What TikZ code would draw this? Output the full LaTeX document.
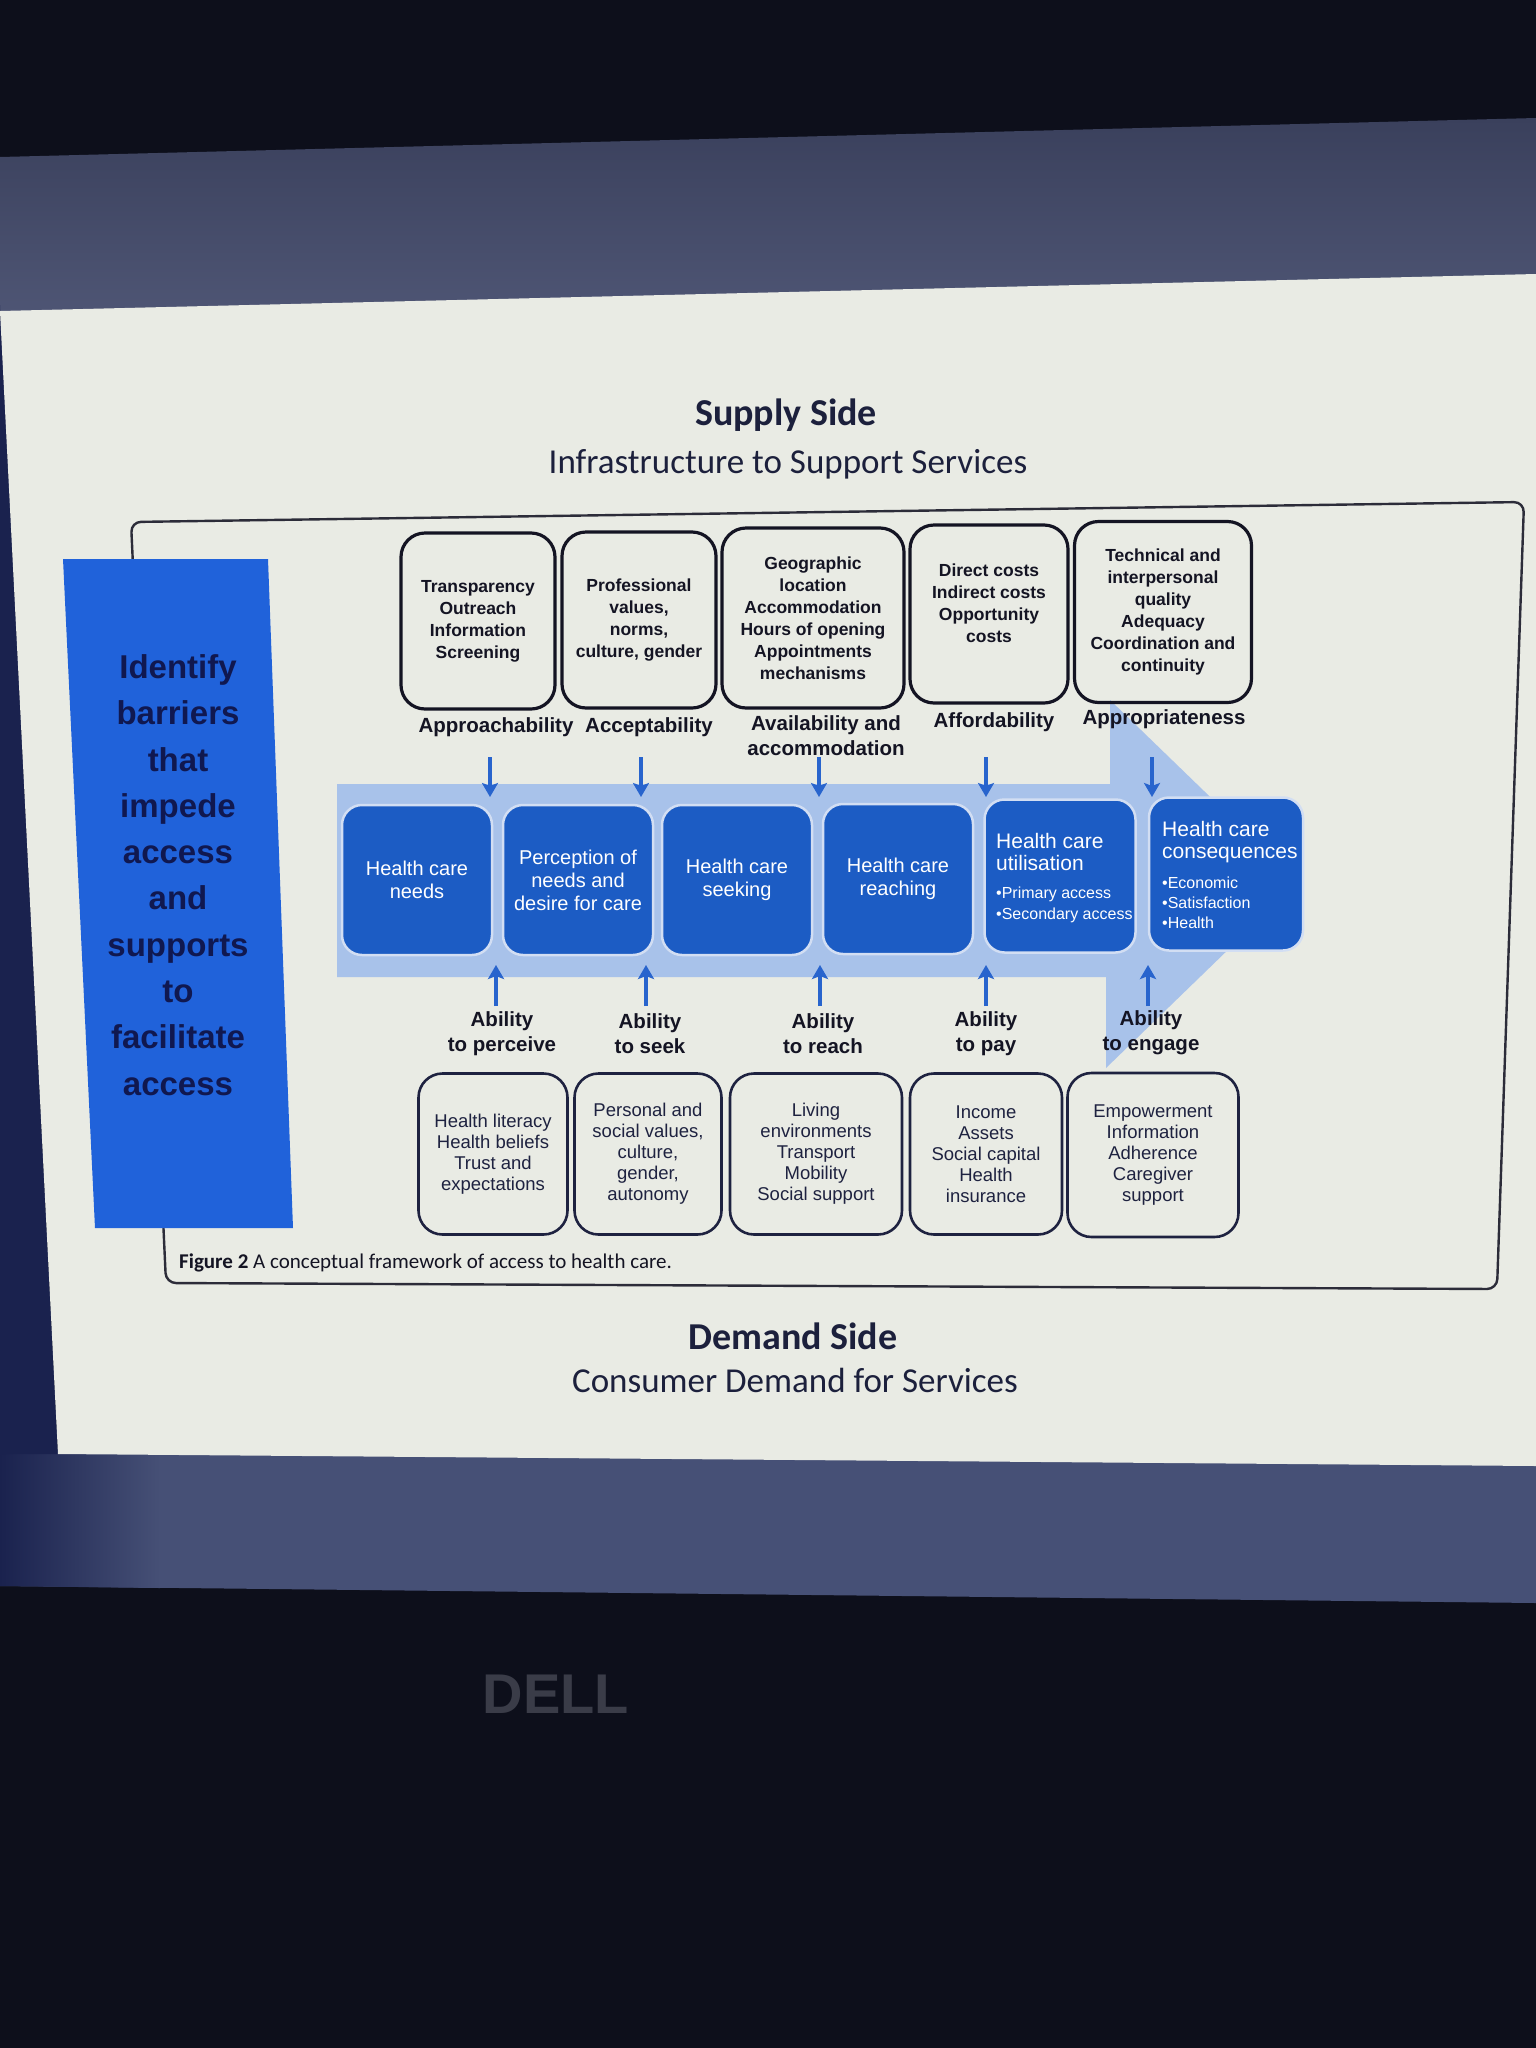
\documentclass[tikz,border=0pt]{standalone}
\usepackage{fontspec}
\setmainfont{Liberation Sans}
\newfontfamily\calfont{Carlito}
\usetikzlibrary{arrows.meta}
\definecolor{bodydark}{RGB}{13,15,27}
\definecolor{bezeltop}{RGB}{78,85,116}
\definecolor{bezeltopdark}{RGB}{58,64,92}
\definecolor{bezelleft}{RGB}{26,34,78}
\definecolor{bezelbot}{RGB}{70,80,118}
\definecolor{slidebg}{RGB}{233,235,228}
\definecolor{ink}{RGB}{20,20,35}
\definecolor{navyink}{RGB}{30,34,64}
\definecolor{titleink}{RGB}{28,32,60}
\definecolor{stageblue}{RGB}{28,92,196}
\definecolor{arrowblue}{RGB}{40,100,205}
\definecolor{bandblue}{RGB}{168,194,234}
\definecolor{panelblue}{RGB}{32,98,218}
\definecolor{paneltext}{RGB}{16,24,80}
\definecolor{dellgrey}{RGB}{58,60,72}
\begin{document}
\begin{tikzpicture}[x=1pt,y=-1pt,
  supbox/.style={draw=ink, line width=3.2, rounded corners=24, align=center,
    font=\fontsize{17.5}{22}\selectfont\bfseries, text=ink, inner sep=2},
  dembox/.style={draw=navyink, line width=2.6, rounded corners=24, align=center,
    font=\fontsize{18.5}{21}\selectfont, text=navyink, minimum height=161, inner sep=2},
  stage/.style={fill=stageblue, draw=white!80!stageblue, line width=2.5, rounded corners=20,
    text=white, align=center, font=\fontsize{20}{23}\selectfont,
    minimum width=150, minimum height=150, inner sep=3},
  stagehead/.style={anchor=base west, inner sep=0, text=white, font=\fontsize{21}{22.5}\selectfont},
  stagebul/.style={anchor=base west, inner sep=0, text=white, font=\fontsize{16}{20}\selectfont},
  dimlab/.style={font=\fontsize{20.5}{25}\selectfont\bfseries, align=center, text=ink, inner sep=1},
  barrow/.style={draw=arrowblue, line width=3.4, -{Stealth[length=14,width=16,inset=3]}},
  frame/.style={draw=ink!90, line width=2.4, rounded corners=10},
]
\useasboundingbox (0,0) rectangle (1536,2048);
% --- photo surroundings ---
\fill[bodydark] (0,0) rectangle (1536,2048);
\shade[top color=bezeltopdark, bottom color=bezeltop] (0,157) -- (1536,118) -- (1536,276) -- (0,313) -- cycle;
\fill[bezelbot] (0,1450) -- (1536,1462) -- (1536,1603) -- (0,1586) -- cycle;
\shade[left color=bezelleft, right color=bezelbot] (0,1450) -- (160,1452) -- (160,1588) -- (0,1586) -- cycle;
\fill[bezelleft] (0,305) -- (58,1454) -- (0,1454) -- cycle;
\fill[slidebg] (0,311) -- (1536,274) -- (1536,1466) -- (58,1454) -- cycle;
\node[font=\bfseries\fontsize{56}{56}\selectfont, text=dellgrey] (dell) at (556,1694) {DELL};
% --- titles ---
\node[font=\calfont\bfseries\fontsize{38}{44}\selectfont, text=titleink] (supply) at (786,415) {Supply Side};
\node[font=\calfont\fontsize{35}{40}\selectfont, text=titleink] (infra) at (788,464) {Infrastructure to Support Services};
\node[font=\calfont\bfseries\fontsize{38}{44}\selectfont, text=titleink] (demand) at (793,1336) {Demand Side};
\node[font=\calfont\fontsize{35}{40}\selectfont, text=titleink] (consumer) at (795,1380) {Consumer Demand for Services};
% --- figure frame ---
\draw[frame] (131,522) -- (1524,502) -- (1497,1289) -- (166,1283) -- cycle;
% --- left panel ---
\fill[panelblue] (63,559) -- (268,559) -- (293,1228) -- (95,1228) -- cycle;
\node[font=\fontsize{33}{46.3}\selectfont\bfseries, text=paneltext, align=center] (panel) at (178,875)
  {Identify\\barriers\\that\\impede\\access\\and\\supports\\to\\facilitate\\access};
% --- light blue arrow band ---
\fill[bandblue] (337,784) -- (1110,784) -- (1110,700) -- (1298,882) -- (1106,1068) -- (1106,977) -- (337,977) -- cycle;
% --- stage boxes ---
\node[stage] (n1) at (417,880) {Health care\\needs};
\node[stage] (n2) at (578,880) {Perception of\\needs and\\desire for care};
\node[stage] (n3) at (737,880) {Health care\\seeking};
\node[stage] (n4) at (898,879) {Health care\\reaching};
\node[stage, minimum width=151, minimum height=153] (n5) at (1060,876) {};
\node[stagehead] (n5a) at (996,848) {Health care};
\node[stagehead] (n5b) at (996,870) {utilisation};
\node[stagebul] (n5c) at (996,898) {•Primary access};
\node[stagebul] (n5d) at (996,919) {•Secondary access};
\node[stage, minimum width=154, minimum height=153] (n6) at (1226,874) {};
\node[stagehead] (n6a) at (1162,836) {Health care};
\node[stagehead] (n6b) at (1162,858) {consequences};
\node[stagebul] (n6c) at (1162,888) {•Economic};
\node[stagebul] (n6d) at (1162,908) {•Satisfaction};
\node[stagebul] (n6e) at (1162,928) {•Health};
% --- supply side boxes ---
\node[supbox, minimum width=154, minimum height=176] (s1) at (478,621) {Transparency\\Outreach\\Information\\Screening};
\node[supbox, minimum width=154, minimum height=176] (s2) at (639,620) {Professional\\values,\\norms,\\culture, gender};
\node[supbox, minimum width=182, minimum height=180] (s3) at (813,618) {Geographic\\location\\Accommodation\\Hours of opening\\Appointments\\mechanisms};
\node[supbox, minimum width=158, minimum height=178] (s4) at (989,614) {};
\node[font=\fontsize{17.5}{22}\selectfont\bfseries, text=ink, align=center] (s4t) at (989,603) {Direct costs\\Indirect costs\\Opportunity\\costs};
\node[supbox, minimum width=177, minimum height=181] (s5) at (1163,612) {Technical and\\interpersonal\\quality\\Adequacy\\Coordination and\\continuity};
% --- supply labels ---
\node[dimlab] (l1) at (496,727) {Approachability};
\node[dimlab] (l2) at (649,727) {Acceptability};
\node[dimlab] (l3) at (826,736) {Availability and\\accommodation};
\node[dimlab] (l4) at (994,722) {Affordability};
\node[dimlab] (l5) at (1164,719) {Appropriateness};
% --- down arrows ---
\coordinate (d1a) at (490,757); \coordinate (d1b) at (490,797);
\coordinate (d2a) at (641,757); \coordinate (d2b) at (641,797);
\coordinate (d3a) at (819,757); \coordinate (d3b) at (819,797);
\coordinate (d4a) at (986,757); \coordinate (d4b) at (986,797);
\coordinate (d5a) at (1152,757); \coordinate (d5b) at (1152,797);
\foreach \i in {1,...,5} {\draw[barrow] (d\i a) -- (d\i b);}
% --- up arrows ---
\coordinate (u1a) at (496,1006); \coordinate (u1b) at (496,965);
\coordinate (u2a) at (646,1006); \coordinate (u2b) at (646,965);
\coordinate (u3a) at (820,1006); \coordinate (u3b) at (820,965);
\coordinate (u4a) at (986,1006); \coordinate (u4b) at (986,965);
\coordinate (u5a) at (1148,1006); \coordinate (u5b) at (1148,965);
\foreach \i in {1,...,5} {\draw[barrow] (u\i a) -- (u\i b);}
% --- demand labels ---
\node[dimlab] (a1) at (502,1034) {Ability\\to perceive};
\node[dimlab] (a2) at (650,1034) {Ability\\to seek};
\node[dimlab] (a3) at (823,1034) {Ability\\to reach};
\node[dimlab] (a4) at (986,1034) {Ability\\to pay};
\node[dimlab] (a5) at (1151,1033) {Ability\\to engage};
% --- demand side boxes ---
\node[dembox, minimum width=149] (b1) at (493,1154) {Health literacy\\Health beliefs\\Trust and\\expectations};
\node[dembox, minimum width=147] (b2) at (648,1154) {Personal and\\social values,\\culture,\\gender,\\autonomy};
\node[dembox, minimum width=172] (b3) at (816,1154) {Living\\environments\\Transport\\Mobility\\Social support};
\node[dembox, minimum width=152] (b4) at (986,1154) {Income\\Assets\\Social capital\\Health\\insurance};
\node[dembox, minimum width=171, minimum height=164] (b5) at (1153,1155) {Empowerment\\Information\\Adherence\\Caregiver\\support};
% --- caption ---
\node[anchor=base west, font=\calfont\fontsize{21}{24}\selectfont, text=ink, inner sep=0] (cap) at (179,1268)
  {\textbf{Figure 2} A conceptual framework of access to health care.};
\end{tikzpicture}
\end{document}
